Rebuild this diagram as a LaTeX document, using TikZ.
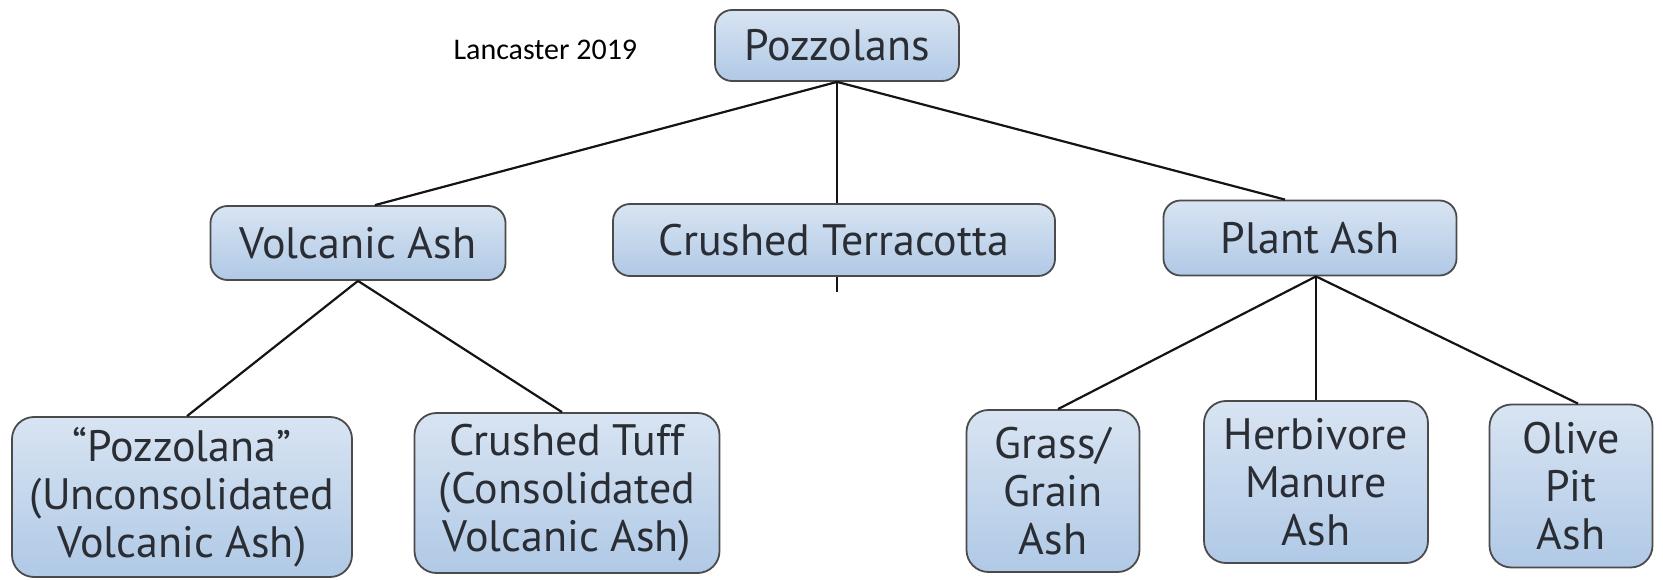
\documentclass[tikz,border=0pt]{standalone}
\usepackage{fontspec}
\setmainfont{PT Sans}
\newfontfamily\lancfont{Carlito}
\definecolor{boxtop}{RGB}{216,228,242}
\definecolor{boxbot}{RGB}{176,201,230}
\definecolor{boxline}{RGB}{75,75,75}
\definecolor{txtc}{RGB}{42,46,52}
\definecolor{linec}{RGB}{20,20,20}
\begin{document}
\begin{tikzpicture}[x=1pt,y=-1pt,
  box/.style={draw=boxline, line width=1.8pt, rounded corners=17pt,
    top color=boxtop, bottom color=boxbot, text=txtc,
    font=\fontsize{44}{48}\selectfont, align=center, inner sep=0pt},
  link/.style={draw=linec, line width=2.2pt}]
\useasboundingbox (0,0) rectangle (1663,580);

\node[anchor=west, font=\lancfont\fontsize{30}{36}\selectfont] (lanc) at (450,50) {Lancaster 2019};

\node[box, minimum width=244pt, minimum height=71pt] (poz) at (837,45.5) {Pozzolans};
\node[box, minimum width=295pt, minimum height=74pt] (volc) at (358,243) {Volcanic Ash};
\node[box, minimum width=442pt, minimum height=72pt] (terra) at (834,240) {Crushed Terracotta};
\node[box, minimum width=293pt, minimum height=75pt] (plant) at (1310,238) {Plant Ash};

\node[box, rounded corners=22pt, minimum width=340pt, minimum height=160pt] (pzna) at (182,497) {``Pozzolana''\\(Unconsolidated\\Volcanic Ash)};
\node[box, rounded corners=22pt, minimum width=305pt, minimum height=160pt] (tuff) at (567,493) {Crushed Tuff\\(Consolidated\\Volcanic Ash)};
\node[box, rounded corners=22pt, minimum width=173pt, minimum height=162pt] (grass) at (1053,491) {Grass/\\Grain\\Ash};
\node[box, rounded corners=22pt, minimum width=224pt, minimum height=162pt] (herb) at (1316,482) {Herbivore\\Manure\\Ash};
\node[box, rounded corners=22pt, minimum width=163pt, minimum height=163pt] (olive) at (1571,486) {Olive\\Pit\\Ash};

\coordinate (pozb) at (poz.south);
\coordinate (volct) at ([xshift=17pt]volc.north);
\coordinate (plantt) at ([xshift=-25pt]plant.north);
\coordinate (terrat) at ([xshift=3pt]terra.north);
\coordinate (terrab) at ([xshift=3pt]terra.south);
\coordinate (stub) at ([yshift=-15pt]terrab);

\draw[link] (pozb) -- (volct);
\draw[link] (pozb) -- (terrat);
\draw[link] (pozb) -- (plantt);
\draw[link] (terrab) -- (stub);

\draw[link] (volc.south) -- ([xshift=5pt]pzna.north);
\draw[link] (volc.south) -- ([xshift=-5pt]tuff.north);

\draw[link] ([xshift=6pt]plant.south) -- ([xshift=5pt]grass.north);
\draw[link] ([xshift=6pt]plant.south) -- (herb.north);
\draw[link] ([xshift=6pt]plant.south) -- ([xshift=7pt]olive.north);
\end{tikzpicture}
\end{document}
